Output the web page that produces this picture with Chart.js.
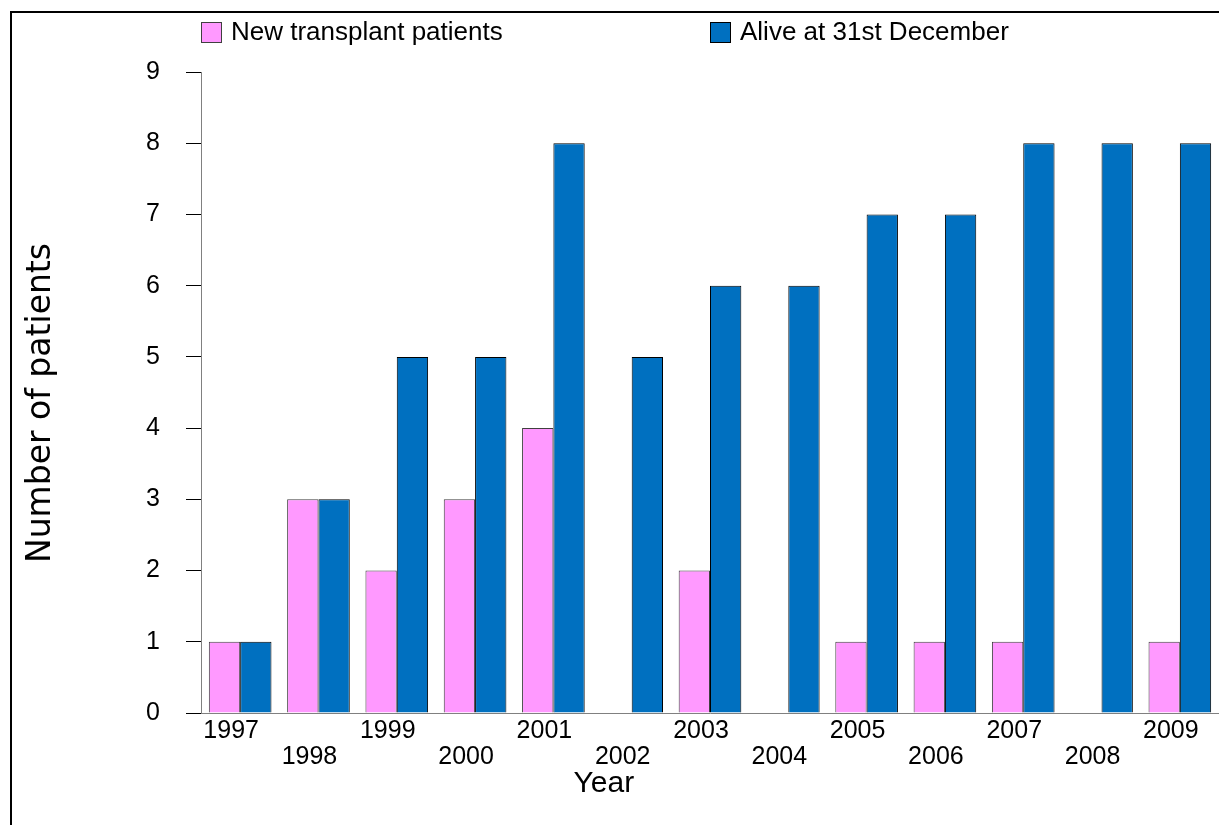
<!DOCTYPE html>
<html>
<head>
<meta charset="utf-8">
<title>Transplant patients</title>
<script src="https://cdn.jsdelivr.net/npm/chart.js@4.4.1/dist/chart.umd.min.js"></script>
<style>
    body { margin: 0; background: #fff; }
</style>
</head>
<body>
<canvas id="transplant-chart" width="1219" height="825"></canvas>
<script>
const years = ['1997', '1998', '1999', '2000', '2001', '2002', '2003',
    '2004', '2005', '2006', '2007', '2008', '2009'];
const newPatients = [1, 3, 2, 3, 4, 0, 2, 0, 1, 1, 1, 0, 1];
const aliveAtYearEnd = [1, 3, 5, 5, 8, 5, 6, 6, 7, 7, 8, 8, 8];
const yMax = 9;

const sans = '"Liberation Sans", Arial, sans-serif';

// black frame round the picture (right and bottom edges fall off the image)
const framePlugin = {
    id: 'frame',
    beforeDraw(chart) {
        const ctx = chart.ctx;
        ctx.save();
        ctx.fillStyle = '#fff';
        ctx.fillRect(0, 0, chart.width, chart.height);
        ctx.strokeStyle = '#000';
        ctx.lineWidth = 2;
        ctx.strokeRect(11, 12, chart.width + 20, chart.height + 20);
        ctx.restore();
    }
};

// legend spread across the top, like the original
const legendPlugin = {
    id: 'topLegend',
    afterDraw(chart) {
        const ctx = chart.ctx;
        const starts = [201, 710];
        ctx.save();
        chart.data.datasets.forEach((ds, i) => {
            const x = starts[i];
            ctx.fillStyle = ds.backgroundColor;
            ctx.fillRect(x, 22, 21, 21);
            ctx.strokeStyle = ds.borderColor;
            ctx.lineWidth = 1;
            ctx.strokeRect(x + 0.5, 22.5, 20, 20);
            ctx.fillStyle = '#000';
            ctx.font = '26px ' + sans;
            ctx.textBaseline = 'middle';
            ctx.fillText(ds.label, x + 30, 33);
        });
        ctx.restore();
    }
};

new Chart(document.getElementById('transplant-chart'), {
    type: 'bar',
    data: {
        labels: years,
        datasets: [{
            label: 'New transplant patients',
            data: newPatients,
            backgroundColor: '#FF99FF',
            borderColor: '#404040',
            borderWidth: 1,
            categoryPercentage: 0.8,
            barPercentage: 1
        }, {
            label: 'Alive at 31st December',
            data: aliveAtYearEnd,
            backgroundColor: '#0070C0',
            borderColor: '#000000',
            borderWidth: 1,
            categoryPercentage: 0.8,
            barPercentage: 1
        }]
    },
    options: {
        responsive: false,
        animation: false,
        devicePixelRatio: 1,
        layout: {
            padding: { top: 72, left: 22, right: 0, bottom: 0 }
        },
        plugins: {
            legend: { display: false },
            tooltip: { enabled: false },
            // x axis title, centred on the picture rather than the plot
            title: {
                display: true,
                position: 'bottom',
                text: 'Year    ',
                color: '#000',
                font: { family: sans, size: 30, weight: 'normal' },
                padding: { top: 0, bottom: 23 }
            }
        },
        scales: {
            x: {
                grid: { display: false, drawTicks: false },
                border: { color: '#808080', width: 1 },
                ticks: {
                    autoSkip: false,
                    maxRotation: 0,
                    minRotation: 0,
                    padding: 5,
                    labelOffset: -9,
                    color: '#000',
                    font: { family: sans, size: 25, lineHeight: '26px' },
                    callback: (v, i) => i % 2 ? ['', years[i]] : years[i]
                },
                afterFit(scale) { scale.height = 53; }
            },
            y: {
                min: 0,
                max: yMax,
                ticks: {
                    stepSize: 1,
                    padding: 26,
                    color: '#000',
                    font: { family: sans, size: 25 }
                },
                grid: { drawOnChartArea: false, drawTicks: true, tickLength: 15, color: '#000' },
                border: { color: '#808080', width: 1 },
                title: {
                    display: true,
                    text: 'Number of patients  ',
                    color: '#000',
                    font: { family: '"DejaVu Sans", sans-serif', size: 33 },
                    padding: 0
                },
                afterFit(scale) { scale.width = 179; }
            }
        }
    },
    plugins: [framePlugin, legendPlugin]
});
</script>
</body>
</html>
